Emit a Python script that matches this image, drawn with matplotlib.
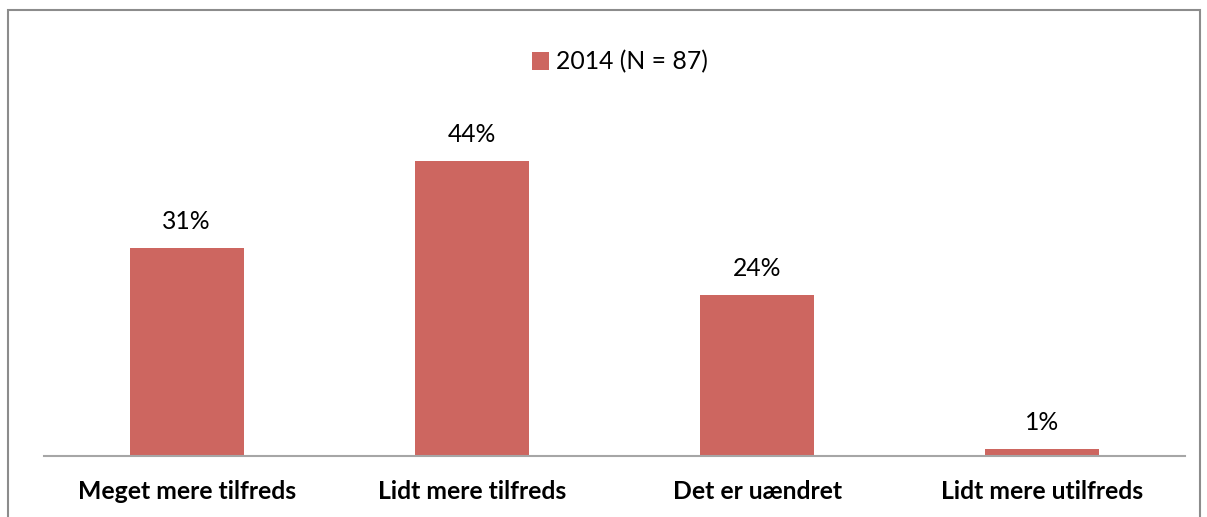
import matplotlib.pyplot as plt
from matplotlib.patches import Rectangle

# ── data ─────────────────────────────────────────────
categories = ["Meget mere tilfreds", "Lidt mere tilfreds", "Det er uændret", "Lidt mere utilfreds"]
values = [31, 44, 24, 1]
series_label = "2014 (N = 87)"

plt.rcParams['font.family'] = ['Lato', 'DejaVu Sans']

W, H = 1207, 517
fig = plt.figure(figsize=(W / 100, H / 100), dpi=100)

# axes in pixel terms: x 44..1185, baseline at y=456
x0, x1 = 44, 1185
base = 456
ymax = 60
top = base - 6.7 * ymax
ax = fig.add_axes([x0 / W, 1 - base / H, (x1 - x0) / W, (base - top) / H])

fs = 17.8
bar_color = '#CD6660'
xs = range(len(categories))
bars = ax.bar(xs, values, width=0.4, color=bar_color, label=series_label, zorder=2)
for b, v in zip(bars, values):
    ax.text(b.get_x() + b.get_width() / 2, v + 2.3, f"{v}%", ha='center', va='bottom',
            fontsize=fs, color='#000000')

ax.set_xlim(-0.5, len(categories) - 0.5)
ax.set_ylim(0, ymax)
ax.set_xticks(list(xs))
ax.set_xticklabels(categories, fontsize=fs, fontweight='bold')
ax.tick_params(axis='x', length=0, pad=17)
ax.set_yticks([])
for s in ['top', 'right', 'left']:
    ax.spines[s].set_visible(False)
ax.spines['bottom'].set_color('#A6A6A6')
ax.spines['bottom'].set_linewidth(1.5)

leg = fig.legend(loc='center', bbox_to_anchor=(620 / W, 1 - 62 / H), frameon=False,
                 fontsize=fs, handlelength=0.7, handleheight=0.7, handletextpad=0.3)

# outer frame of the chart area
fig.patches.append(Rectangle((8 / W, -0.1), (1200 - 8) / W, 1.1 - 10 / H,
                             transform=fig.transFigure, fill=False,
                             edgecolor='#8C8C8C', linewidth=1.5))

fig.savefig('out.png', dpi=100)
